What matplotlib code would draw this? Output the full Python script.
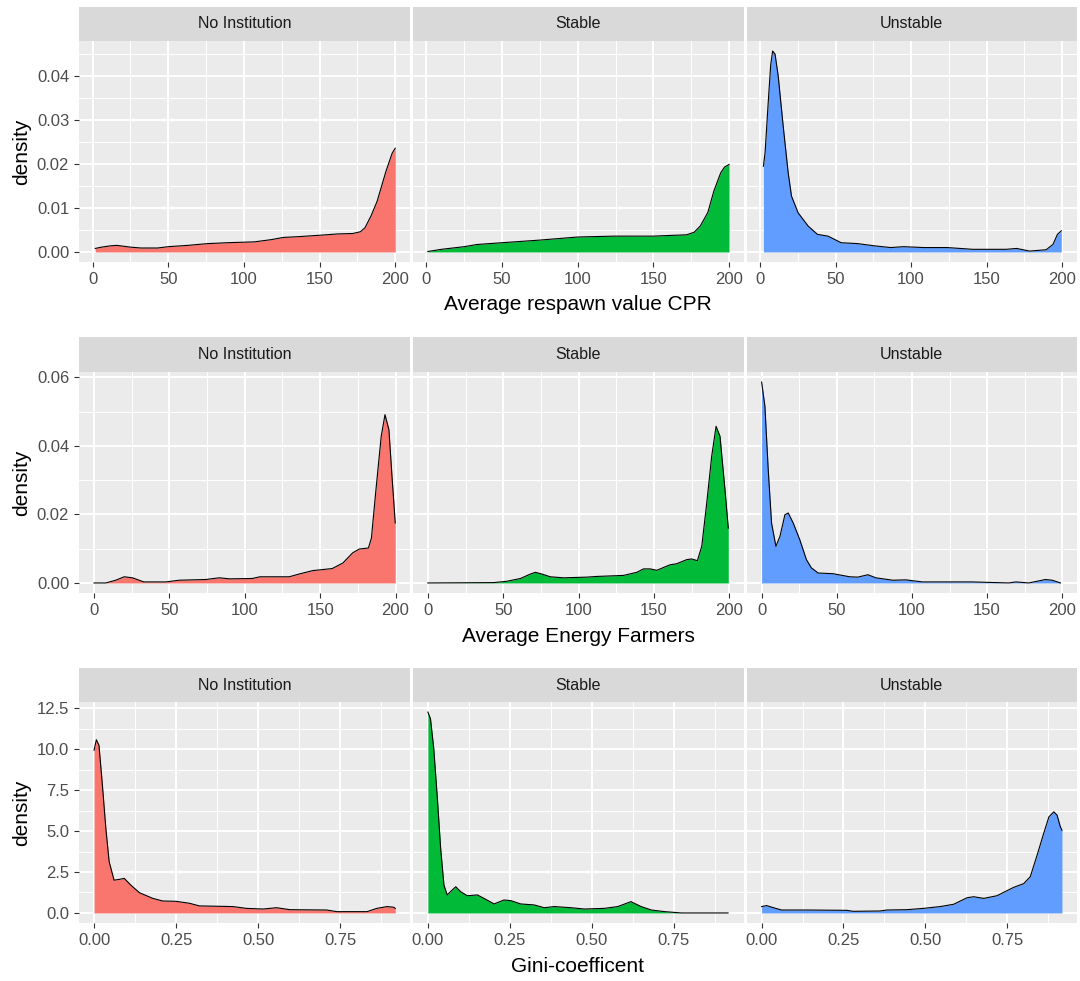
import numpy as np
import matplotlib
matplotlib.use("Agg")
import matplotlib.pyplot as plt
from matplotlib.ticker import FixedLocator

plt.rcParams['font.family'] = ['Liberation Sans', 'DejaVu Sans']

# --- data (density curves, x / density) ---
groups = ["No Institution", "Stable", "Unstable"]
fills = ["#F8766D", "#00BA38", "#619CFF"]

# row 1: Average respawn value CPR
cpr_none_x = [1.8, 6, 12, 16, 25, 32, 43, 50, 63, 76, 89, 107, 118, 126, 137, 150, 162,
              172, 177, 180, 184, 188, 191, 194, 196, 198, 200]
cpr_none_y = [0.0008, 0.0011, 0.0014, 0.0015, 0.0011, 0.0009, 0.0009, 0.0012, 0.0015, 0.0019,
              0.0021, 0.0023, 0.0028, 0.0033, 0.0035, 0.0038, 0.0041, 0.0042, 0.0046, 0.0055,
              0.0082, 0.0115, 0.015, 0.0185, 0.0205, 0.0225, 0.0236]
cpr_stab_x = [1, 10, 25, 33.5, 50, 75, 100, 124, 150, 164, 172, 177, 181, 186, 190, 194.5,
              197, 200]
cpr_stab_y = [0.0001, 0.0006, 0.0012, 0.0017, 0.0021, 0.0027, 0.0034, 0.0036, 0.0036, 0.0038,
              0.0039, 0.0045, 0.0059, 0.009, 0.0139, 0.018, 0.0193, 0.0199]
cpr_unst_x = [2.2, 3.3, 5.5, 7, 8.3, 9.9, 12, 15.3, 18.6, 20.8, 25.2, 31.8, 38, 45, 53.7,
              64.6, 75.6, 86.5, 95, 108.6, 124, 141, 163, 170, 178.5, 189.5, 194, 197, 199.5]
cpr_unst_y = [0.0195, 0.0226, 0.0347, 0.0425, 0.0457, 0.045, 0.040, 0.0286, 0.018, 0.0127,
              0.0089, 0.0059, 0.004, 0.0036, 0.0021, 0.0019, 0.0014, 0.001, 0.0012, 0.001,
              0.001, 0.0006, 0.0006, 0.0008, 0.0002, 0.0005, 0.0017, 0.004, 0.0048]

# row 2: Average Energy Farmers
ene_none_x = [0, 7.8, 14.4, 20, 25.5, 33, 47.6, 56.5, 74, 83, 90, 105, 110, 129.5, 136, 145,
              158, 165, 171.6, 176, 182, 184, 187, 190.5, 193, 195.6, 197.8, 199.8]
ene_none_y = [0, 0, 0.0008, 0.0018, 0.0015, 0.0003, 0.0003, 0.0008, 0.001, 0.0015, 0.0012,
              0.0013, 0.0018, 0.0018, 0.0026, 0.0036, 0.0042, 0.0058, 0.0088, 0.0099, 0.0102,
              0.0131, 0.0272, 0.0428, 0.0491, 0.0447, 0.0301, 0.0175]
ene_stab_x = [0, 43.7, 52.5, 61.4, 68, 71.3, 75.7, 81.2, 90, 105.5, 112, 129.8, 138.6, 143,
              147.5, 151.9, 160.7, 165, 171.7, 175, 178.8, 181.7, 185, 188.3, 191.2, 193.8,
              197.1, 199.3]
ene_stab_y = [0, 0.0001, 0.0005, 0.0013, 0.0026, 0.0031, 0.0026, 0.0018, 0.0015, 0.0017,
              0.0019, 0.0022, 0.0031, 0.0041, 0.0041, 0.0037, 0.0053, 0.0056, 0.0068, 0.007,
              0.0065, 0.0107, 0.0233, 0.037, 0.0457, 0.0428, 0.0272, 0.016]
ene_unst_x = [0, 2.2, 4.4, 6.6, 9.5, 12.2, 15.5, 17.7, 21, 25.4, 29.8, 33.1, 37.6, 47.5,
              58.6, 64, 70.7, 76, 87.2, 96, 107, 140, 164.5, 169, 177.8, 188.8, 193.3, 198.8]
ene_unst_y = [0.0586, 0.0515, 0.033, 0.0175, 0.0107, 0.0136, 0.0199, 0.0204, 0.0175, 0.0126,
              0.0068, 0.0044, 0.0029, 0.0027, 0.0018, 0.0017, 0.0024, 0.0015, 0.0008, 0.0009,
              0.0003, 0.0003, 0.0, 0.0003, 0.0, 0.001, 0.0008, 0.0]

# row 3: Gini-coefficent
gini_none_x = [0, 0.007, 0.015, 0.0255, 0.036, 0.046, 0.061, 0.077, 0.092, 0.112, 0.138,
               0.179, 0.209, 0.25, 0.291, 0.321, 0.423, 0.464, 0.515, 0.556, 0.597, 0.709,
               0.74, 0.832, 0.862, 0.893, 0.913, 0.918]
gini_none_y = [9.93, 10.57, 10.23, 7.79, 5.15, 3.13, 2.0, 2.05, 2.11, 1.70, 1.24, 0.89, 0.73,
               0.71, 0.59, 0.43, 0.39, 0.28, 0.24, 0.32, 0.20, 0.18, 0.08, 0.08, 0.28, 0.39,
               0.35, 0.28]
gini_stab_x = [0, 0.008, 0.018, 0.029, 0.039, 0.049, 0.059, 0.069, 0.085, 0.1, 0.12, 0.151,
               0.171, 0.202, 0.232, 0.253, 0.283, 0.324, 0.355, 0.385, 0.436, 0.477, 0.538,
               0.579, 0.619, 0.65, 0.681, 0.722, 0.773, 0.915]
gini_stab_y = [12.26, 11.85, 10.03, 6.98, 3.94, 1.70, 1.10, 1.30, 1.60, 1.30, 1.05, 1.10, 0.89,
               0.55, 0.79, 0.75, 0.55, 0.49, 0.32, 0.39, 0.32, 0.24, 0.28, 0.39, 0.69, 0.39,
               0.18, 0.08, 0.0, 0.0]
gini_unst_x = [0, 0.015, 0.036, 0.061, 0.138, 0.26, 0.28, 0.362, 0.383, 0.444, 0.495, 0.546,
               0.587, 0.628, 0.648, 0.679, 0.719, 0.75, 0.77, 0.801, 0.821, 0.842, 0.862,
               0.878, 0.893, 0.903, 0.913, 0.918]
gini_unst_y = [0.39, 0.45, 0.32, 0.18, 0.18, 0.16, 0.10, 0.12, 0.18, 0.20, 0.28, 0.39, 0.53,
               0.93, 0.99, 0.89, 1.05, 1.36, 1.56, 1.79, 2.21, 3.53, 4.85, 5.86, 6.17, 5.97,
               5.26, 5.05]

rows = [
    dict(title="Average respawn value CPR",
         curves=[(cpr_none_x, cpr_none_y), (cpr_stab_x, cpr_stab_y), (cpr_unst_x, cpr_unst_y)],
         xmaj=[0, 50, 100, 150, 200], xlab=["0", "50", "100", "150", "200"],
         ymaj=[0, 0.01, 0.02, 0.03, 0.04], ylab=["0.00", "0.01", "0.02", "0.03", "0.04"],
         strip=(7, 41), panel=(41, 262), title_y=305),
    dict(title="Average Energy Farmers",
         curves=[(ene_none_x, ene_none_y), (ene_stab_x, ene_stab_y), (ene_unst_x, ene_unst_y)],
         xmaj=[0, 50, 100, 150, 200], xlab=["0", "50", "100", "150", "200"],
         ymaj=[0, 0.02, 0.04, 0.06], ylab=["0.00", "0.02", "0.04", "0.06"],
         strip=(337, 372), panel=(372, 593), title_y=636),
    dict(title="Gini-coefficent",
         curves=[(gini_none_x, gini_none_y), (gini_stab_x, gini_stab_y), (gini_unst_x, gini_unst_y)],
         xmaj=[0, 0.25, 0.5, 0.75], xlab=["0.00", "0.25", "0.50", "0.75"],
         ymaj=[0, 2.5, 5.0, 7.5, 10.0, 12.5], ylab=["0.0", "2.5", "5.0", "7.5", "10.0", "12.5"],
         strip=(668, 702), panel=(702, 923), title_y=967),
]

W, H = 1080, 981
fig = plt.figure(figsize=(W / 100, H / 100), dpi=100)
fig.patch.set_facecolor("white")


def box(l, t, r, b):
    return [l / W, 1 - b / H, (r - l) / W, (b - t) / H]


cols = [(79, 410.3), (412.8, 744.1), (746.6, 1077)]

for row in rows:
    allx = np.concatenate([np.asarray(c[0], float) for c in row["curves"]])
    ally = np.concatenate([np.asarray(c[1], float) for c in row["curves"]])
    xr = allx.max() - allx.min()
    xlim = (allx.min() - 0.05 * xr, allx.max() + 0.05 * xr)
    ylim = (-0.05 * ally.max(), 1.05 * ally.max())
    xm = row["xmaj"]
    ym = row["ymaj"]
    xmin_ = [(a + b) / 2 for a, b in zip(xm[:-1], xm[1:])] + [xm[-1] + (xm[1] - xm[0]) / 2]
    ymin_ = [(a + b) / 2 for a, b in zip(ym[:-1], ym[1:])] + [ym[-1] + (ym[1] - ym[0]) / 2]

    for j, (g, col) in enumerate(zip(groups, fills)):
        l, r = cols[j]
        ax = fig.add_axes(box(l, row["panel"][0], r, row["panel"][1]))
        ax.set_facecolor("#EBEBEB")
        for s in ax.spines.values():
            s.set_visible(False)
        ax.set_xlim(*xlim)
        ax.set_ylim(*ylim)
        ax.xaxis.set_major_locator(FixedLocator(xm))
        ax.xaxis.set_minor_locator(FixedLocator(xmin_))
        ax.yaxis.set_major_locator(FixedLocator(ym))
        ax.yaxis.set_minor_locator(FixedLocator(ymin_))
        ax.grid(which="major", color="white", lw=1.4)
        ax.grid(which="minor", color="white", lw=0.7)
        ax.set_axisbelow(True)
        ax.set_xticklabels(row["xlab"])
        ax.tick_params(which="minor", length=0)
        ax.tick_params(which="major", length=3.6, width=0.8, color="#333333",
                       labelcolor="#4D4D4D", labelsize=12, pad=3.5)
        if j == 0:
            ax.set_yticklabels(row["ylab"])
        else:
            ax.tick_params(axis="y", which="both", left=False, labelleft=False)

        x, y = row["curves"][j]
        ax.fill_between(x, 0, y, color=col, lw=0, zorder=2)
        ax.plot(x, y, color="black", lw=0.8, zorder=3)

        sax = fig.add_axes(box(l, row["strip"][0], r, row["strip"][1]))
        sax.set_facecolor("#D9D9D9")
        sax.set_xticks([])
        sax.set_yticks([])
        for s in sax.spines.values():
            s.set_visible(False)
        sax.text(0.5, 0.5, g, ha="center", va="center", fontsize=11.5, color="#1A1A1A",
                 transform=sax.transAxes)

    fig.text(578 / W, 1 - row["title_y"] / H, row["title"], ha="center", va="center",
             fontsize=15, color="black")
    pc = (row["panel"][0] + row["panel"][1]) / 2
    fig.text(22 / W, 1 - pc / H, "density", ha="center", va="center", rotation=90,
             fontsize=15, color="black")

fig.savefig("out.png", dpi=100, facecolor="white")
